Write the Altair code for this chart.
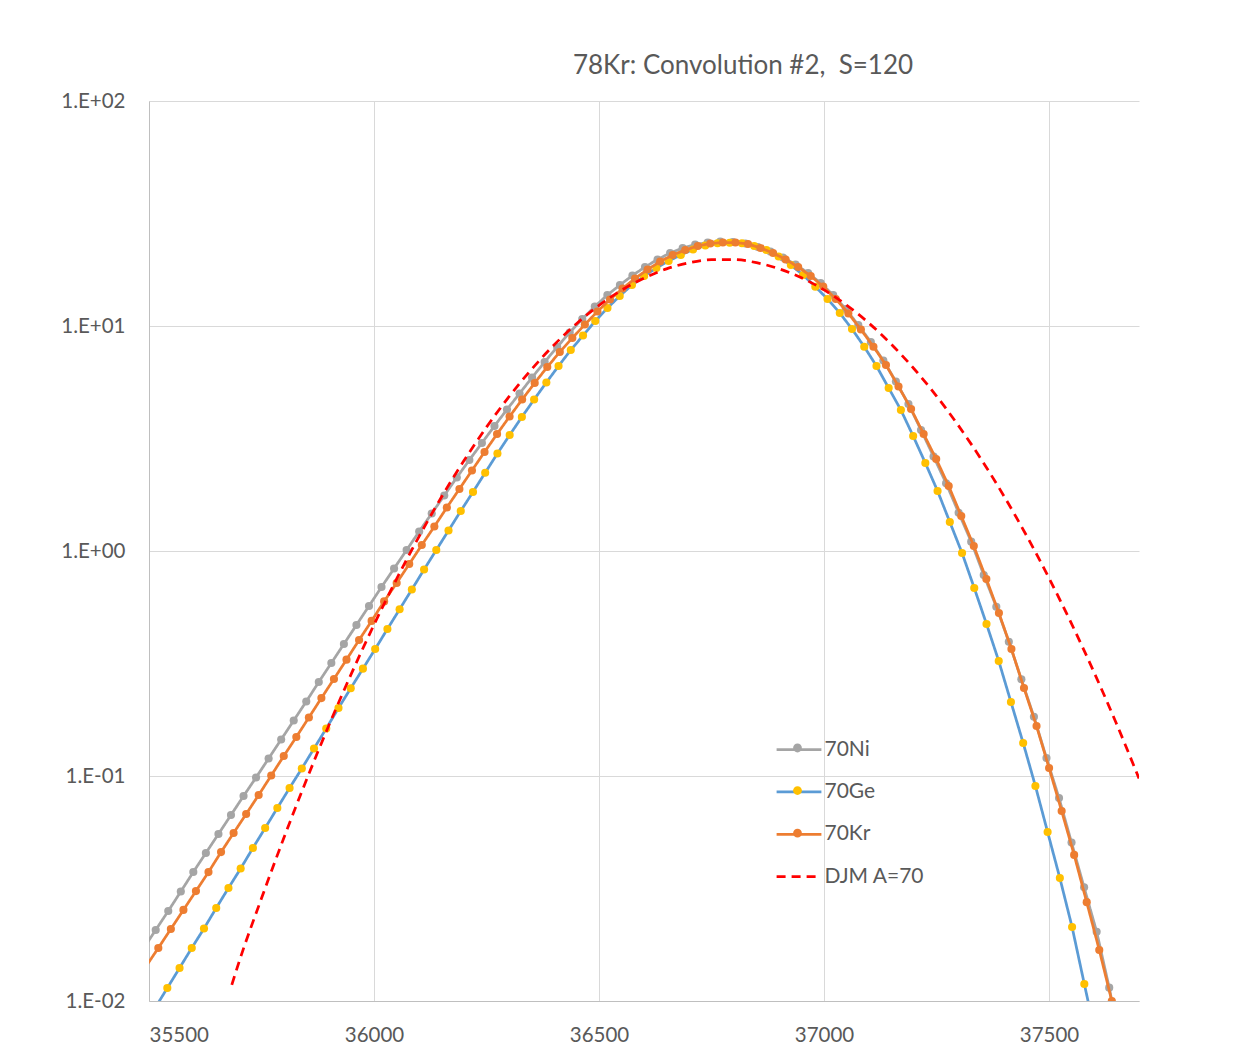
import altair as alt
import pandas as pd

# ---------------- data ----------------
series_names = ["70Ni", "70Ge", "70Kr", "DJM A=70"]
marker_keys = ["m-70Ni", "m-70Ge", "m-70Kr", "m-DJM"]
line_colors = ["#A5A5A5", "#5B9BD5", "#ED7D31", "#FF0000"]
marker_colors = ["#A5A5A5", "#FFC000", "#ED7D31", "transparent"]
dash_styles = [[1, 0], [1, 0], [1, 0], [9, 6]]

ni_x = [35487.0, 35514.9, 35542.8, 35570.7, 35598.5, 35626.4, 35654.3, 35682.2, 35710.1, 35737.9,
        35765.8, 35793.7, 35821.6, 35849.5, 35877.3, 35905.2, 35933.1, 35961.0, 35988.9, 36016.7,
        36044.6, 36072.5, 36100.4, 36128.3, 36156.1, 36184.0, 36211.9, 36239.8, 36267.7, 36295.5,
        36323.4, 36351.3, 36379.2, 36407.1, 36434.9, 36462.8, 36490.7, 36518.6, 36546.5, 36574.3,
        36602.2, 36630.1, 36658.0, 36685.9, 36713.7, 36741.6, 36769.5, 36797.4, 36825.3, 36853.1,
        36881.0, 36908.9, 36936.8, 36964.7, 36992.5, 37020.4, 37048.3, 37076.2, 37104.1, 37131.9,
        37159.8, 37187.7, 37215.6, 37243.5, 37271.3, 37299.2, 37327.1, 37355.0, 37382.9, 37410.7,
        37438.6, 37466.5, 37494.4, 37522.3, 37550.1, 37578.0, 37605.9, 37633.8, 37661.7]
ni_y = [0.01702, 0.02069, 0.02512, 0.03066, 0.03744, 0.04547, 0.05523, 0.06710, 0.08149, 0.09848,
        0.1196, 0.1453, 0.1765, 0.2144, 0.2617, 0.3178, 0.3861, 0.4690, 0.5697, 0.6918,
        0.8360, 1.010, 1.221, 1.468, 1.765, 2.122, 2.538, 3.020, 3.594, 4.256,
        5.012, 5.903, 6.918, 8.067, 9.357, 10.74, 12.21, 13.73, 15.21, 16.77,
        18.29, 19.75, 21.11, 22.22, 23.02, 23.50, 23.74, 23.62, 23.26, 22.45,
        21.44, 20.16, 18.76, 17.20, 15.53, 13.73, 11.90, 10.10, 8.489, 7.025,
        5.666, 4.501, 3.450, 2.630, 2.000, 1.480, 1.100, 0.7822, 0.5655, 0.3953,
        0.2690, 0.1834, 0.1202, 0.0798, 0.0506, 0.0320, 0.0203, 0.01146, 0.0060]

ge_x = [35513.5, 35540.7, 35567.9, 35595.0, 35622.2, 35649.4, 35676.6, 35703.7, 35730.9, 35758.1,
        35785.2, 35812.4, 35839.6, 35866.7, 35893.9, 35921.1, 35948.3, 35975.4, 36002.6, 36029.8,
        36056.9, 36084.1, 36111.3, 36138.4, 36165.6, 36192.8, 36220.0, 36247.1, 36274.3, 36301.5,
        36328.6, 36355.8, 36383.0, 36410.1, 36437.3, 36464.5, 36491.7, 36518.8, 36546.0, 36573.2,
        36600.3, 36627.5, 36654.7, 36681.8, 36709.0, 36736.2, 36763.4, 36790.5, 36817.7, 36844.9,
        36872.0, 36899.2, 36926.4, 36953.5, 36980.7, 37007.9, 37035.1, 37062.2, 37089.4, 37116.6,
        37143.7, 37170.9, 37198.1, 37225.2, 37252.4, 37279.6, 37306.8, 37333.9, 37361.1, 37388.3,
        37415.4, 37442.6, 37469.8, 37496.9, 37524.1, 37551.3, 37578.5, 37605.6]
ge_y = [0.00931, 0.01142, 0.01402, 0.01720, 0.02100, 0.02590, 0.03178, 0.03880, 0.04786, 0.05873,
        0.07208, 0.08845, 0.1080, 0.1325, 0.1626, 0.2005, 0.2454, 0.2999, 0.3667, 0.4501,
        0.5507, 0.6745, 0.8276, 1.010, 1.233, 1.506, 1.830, 2.228, 2.713, 3.278,
        3.941, 4.713, 5.609, 6.641, 7.822, 9.075, 10.52, 12.02, 13.59, 15.21,
        16.68, 18.10, 19.45, 20.69, 21.88, 22.80, 23.31, 23.45, 23.31, 22.68,
        21.77, 20.37, 18.67, 16.85, 14.95, 13.18, 11.42, 9.698, 8.091, 6.641,
        5.302, 4.233, 3.244, 2.461, 1.848, 1.345, 0.9797, 0.6849, 0.4739, 0.3244,
        0.2133, 0.1402, 0.09027, 0.05638, 0.03521, 0.02132, 0.01190, 0.00671]

kr_x = [35492.8, 35520.7, 35548.6, 35576.5, 35604.3, 35632.2, 35660.1, 35688.0, 35715.9, 35743.7,
        35771.6, 35799.5, 35827.4, 35855.3, 35883.1, 35911.0, 35938.9, 35966.8, 35994.7, 36022.5,
        36050.4, 36078.3, 36106.2, 36134.1, 36161.9, 36189.8, 36217.7, 36245.6, 36273.5, 36301.3,
        36329.2, 36357.1, 36385.0, 36412.9, 36440.7, 36468.6, 36496.5, 36524.4, 36552.3, 36580.1,
        36608.0, 36635.9, 36663.8, 36691.7, 36719.5, 36747.4, 36775.3, 36803.2, 36831.1, 36858.9,
        36886.8, 36914.7, 36942.6, 36970.5, 36998.3, 37026.2, 37054.1, 37082.0, 37109.9, 37137.7,
        37165.6, 37193.5, 37221.4, 37249.3, 37277.1, 37305.0, 37332.9, 37360.8, 37388.7, 37416.5,
        37444.4, 37472.3, 37500.2, 37528.1, 37555.9, 37583.8, 37611.7, 37639.6]
kr_y = [0.0142, 0.0172, 0.0209, 0.0254, 0.0308, 0.0374, 0.0459, 0.0558, 0.0678, 0.0823,
        0.1005, 0.1227, 0.1491, 0.182, 0.222, 0.270, 0.329, 0.402, 0.489, 0.597,
        0.721, 0.875, 1.063, 1.285, 1.561, 1.887, 2.280, 2.754, 3.311, 3.961,
        4.713, 5.580, 6.574, 7.664, 8.845, 10.15, 11.60, 13.11, 14.68, 16.26,
        17.83, 19.35, 20.69, 21.77, 22.68, 23.26, 23.50, 23.50, 23.14, 22.22,
        21.11, 19.75, 18.29, 16.68, 14.98, 13.18, 11.37, 9.647, 8.091, 6.710,
        5.384, 4.277, 3.311, 2.564, 1.945, 1.431, 1.052, 0.751, 0.530, 0.367,
        0.246, 0.1668, 0.1085, 0.0699, 0.0446, 0.0275, 0.01686, 0.0100]

djm_x = [35684, 35700, 35750, 35800, 35850, 35900, 35950, 36000, 36050, 36100,
         36150, 36200, 36250, 36300, 36350, 36400, 36450, 36500, 36550, 36600,
         36650, 36700, 36750, 36800, 36850, 36900, 36950, 37000, 37050, 37100,
         37150, 37200, 37250, 37300, 37350, 37400, 37450, 37500, 37550, 37600,
         37650, 37700]
djm_y = [0.0118, 0.01489, 0.02860, 0.05328, 0.09620, 0.1684, 0.2858, 0.4701, 0.7497, 1.159,
         1.737, 2.522, 3.552, 4.850, 6.417, 8.232, 10.24, 12.34, 14.42, 16.33,
         17.94, 19.10, 19.71, 19.72, 19.12, 17.97, 16.38, 14.47, 12.39, 10.29,
         8.277, 6.458, 4.884, 3.580, 2.544, 1.753, 1.171, 0.7580, 0.4756, 0.2893,
         0.1706, 0.09754]

x_ticks = [35500, 36000, 36500, 37000, 37500]
y_ticks = [0.01, 0.1, 1, 10, 100]
title_text = "78Kr: Convolution #2,\u00a0 S=120"

# ---------------- table ----------------
rows = []
for name, mkey, xs, ys in zip(series_names, marker_keys, [ni_x, ge_x, kr_x, djm_x],
                              [ni_y, ge_y, kr_y, djm_y]):
    for xv, yv in zip(xs, ys):
        rows.append({"series": name, "marker_series": mkey, "x": xv, "y": yv})
df = pd.DataFrame(rows)

FONT = "Lato"
TXT = "#595959"

x_enc = alt.X(
    "x:Q",
    scale=alt.Scale(domain=[35500, 37700], nice=False, zero=False),
    axis=alt.Axis(values=x_ticks, format="d", title=None, grid=True, gridColor="#D9D9D9",
                  gridWidth=1, domainColor="#BFBFBF", domainWidth=1, ticks=False, tickSize=0,
                  labelFont=FONT, labelFontSize=20.5, labelColor=TXT, labelPadding=24),
)
y_enc = alt.Y(
    "y:Q",
    scale=alt.Scale(type="log", domain=[0.01, 100], nice=False),
    axis=alt.Axis(values=y_ticks, title=None, grid=True, gridColor="#D9D9D9", gridWidth=1,
                  domainColor="#BFBFBF", domainWidth=1, ticks=False, tickSize=0,
                  labelFont=FONT, labelFontSize=20.5, labelColor=TXT, labelPadding=24,
                  labelExpr="'1.E' + (datum.value >= 1 ? '+' : '-') + '0' + abs(round(log(datum.value) / LN10))"),
)

legend_common = dict(orient="none", legendX=628.5, legendY=627, title=None, symbolSize=1600,
                     labelFont=FONT, labelFontSize=21, labelColor=TXT, labelOffset=4,
                     padding=0)

color_enc = alt.Color(
    "series:N",
    scale=alt.Scale(domain=series_names, range=line_colors),
    legend=alt.Legend(symbolType="M-1.12,0H1.12", symbolStrokeWidth=2.75, zindex=1,
                      rowPadding=10.4, **legend_common),
)
dash_enc = alt.StrokeDash(
    "series:N",
    scale=alt.Scale(domain=series_names, range=dash_styles),
    legend=alt.Legend(symbolType="M-1.12,0H1.12", symbolStrokeWidth=2.75, zindex=1,
                      rowPadding=10.4, **legend_common),
)
fill_enc = alt.Fill(
    "marker_series:N",
    scale=alt.Scale(domain=marker_keys, range=marker_colors),
    legend=alt.Legend(symbolType="M-0.22,0A0.22,0.22 0 1,0 0.22,0A0.22,0.22 0 1,0 -0.22,0Z",
                      symbolStrokeWidth=0, labelExpr="''", zindex=2, rowPadding=12.6,
                      **legend_common),
)

base = alt.Chart(df)


def line_layer(name, interp="linear"):
    return base.transform_filter(alt.datum.series == name).mark_line(
        strokeWidth=2.75, clip=True, interpolate=interp
    ).encode(x=x_enc, y=y_enc, color=color_enc, strokeDash=dash_enc, order="x:Q")


def point_layer(name):
    return base.transform_filter(
        (alt.datum.series == name) & (alt.datum.x >= 35500) & (alt.datum.y >= 0.0099)
    ).mark_circle(size=66, opacity=1, clip=True).encode(x=x_enc, y=y_enc, fill=fill_enc)


chart = alt.layer(
    line_layer("70Ni"), point_layer("70Ni"),
    line_layer("70Ge"), point_layer("70Ge"),
    line_layer("70Kr"), point_layer("70Kr"),
    line_layer("DJM A=70", "monotone"),
).properties(
    width=990,
    height=900,
    title=alt.Title(title_text, font=FONT, fontSize=26, fontWeight="normal", color=TXT,
                    anchor="middle", dx=99, offset=12),
    autosize=alt.AutoSizeParams(type="none"),
    padding={"left": 149, "top": 101, "right": 103, "bottom": 57},
    background="white",
).configure_view(stroke=None)

chart.save("out.html", embed_options={"renderer": "svg", "actions": False})
